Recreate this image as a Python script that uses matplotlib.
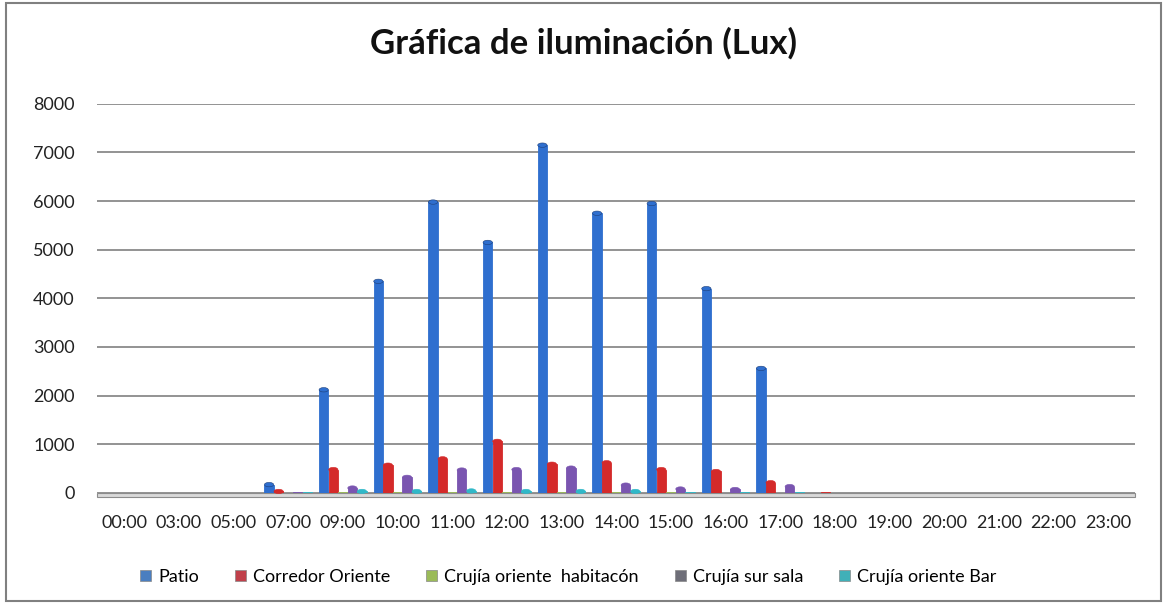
import matplotlib

matplotlib.use('Agg')

import matplotlib.pyplot as plt
import numpy as np
from matplotlib.patches import Ellipse, Patch, Rectangle

plt.rcParams['font.family'] = ['Lato', 'DejaVu Sans']

horas = ['00:00', '03:00', '05:00', '07:00', '09:00', '10:00', '11:00', '12:00', '13:00',
         '14:00', '15:00', '16:00', '17:00', '18:00', '19:00', '20:00', '21:00', '22:00', '23:00']

patio = [0, 0, 0, 170, 2120, 4350, 5980, 5150, 7150, 5750, 5950, 4200, 2560, 0, 0, 0, 0, 0, 0]
corredor = [0, 0, 0, 30, 480, 570, 700, 1060, 590, 620, 480, 440, 210, 20, 0, 0, 0, 0, 0]
habitacion = [0, 0, 0, 5, 10, 10, 15, 15, 10, 10, 10, 5, 5, 0, 0, 0, 0, 0, 0]
sur_sala = [0, 0, 0, 10, 100, 320, 470, 480, 510, 160, 80, 70, 130, 0, 0, 0, 0, 0, 0]
bar = [0, 0, 0, 10, 30, 30, 40, 30, 30, 30, 20, 20, 10, 0, 0, 0, 0, 0, 0]

series = [
    ('Patio', patio, '#2f6fcf', '#4a7ec0'),
    ('Corredor Oriente', corredor, '#d42a2a', '#c0404a'),
    ('Crujía oriente  habitacón', habitacion, '#9bbb59', '#9bbb59'),
    ('Crujía sur sala', sur_sala, '#7a55b0', '#6e6e78'),
    ('Crujía oriente Bar', bar, '#30b8c8', '#40b0b8'),
]

fig = plt.figure(figsize=(11.67, 6.07), dpi=100)
ax = fig.add_axes([0.083, 0.188, 0.89, 0.641])

x = np.arange(len(horas))
width = 0.17
step = 0.175

for i, (name, vals, color, _) in enumerate(series):
    pos = x + (i - 2) * step
    ax.bar(pos, vals, width=width, color=color, edgecolor=color, linewidth=0.6, zorder=3)
    # cylinder caps on top of each bar
    for px, v in zip(pos, vals):
        if v > 20:
            ax.add_patch(Ellipse((px, v), width, 90, facecolor=color,
                                 edgecolor='#1e3f78' if i == 0 else color,
                                 linewidth=0.4, zorder=4, clip_on=False))

# floor of the 3D chart
ax.add_patch(Rectangle((-0.5, -90), len(horas), 90, facecolor='#d9d9d9',
                       edgecolor='#8c8c8c', linewidth=0.8, zorder=2, clip_on=False))

ax.set_xlim(-0.5, len(horas) - 0.5)
ax.set_ylim(0, 8000)
ax.set_yticks(np.arange(0, 8001, 1000))
ax.yaxis.grid(True, color='#808080', linewidth=1.2, zorder=0)
ax.set_xticks(x)
ax.set_xticklabels(horas, fontsize=13, color='#222222')
ax.tick_params(axis='y', labelsize=13, labelcolor='#222222', length=0, pad=16)
ax.tick_params(axis='x', length=0, pad=16)
for s in ax.spines.values():
    s.set_visible(False)

fig.suptitle('Gráfica de iluminación (Lux)', fontsize=25, fontweight='bold',
             x=0.5, y=0.955, color='#111111')

handles = [Patch(facecolor=lc, edgecolor='#888888', linewidth=0.5) for _, _, _, lc in series]
labels = [name for name, _, _, _ in series]
fig.legend(handles, labels, loc='center', bbox_to_anchor=(0.487, 0.05), ncol=5,
           frameon=False, fontsize=13, handlelength=0.6, handleheight=0.6,
           handletextpad=0.4, columnspacing=2.0)

fig.patches.append(Rectangle((0.005, 0.01), 0.99, 0.985, transform=fig.transFigure,
                             fill=False, edgecolor='#808080', linewidth=1.5))

fig.savefig('out.png', dpi=100)
